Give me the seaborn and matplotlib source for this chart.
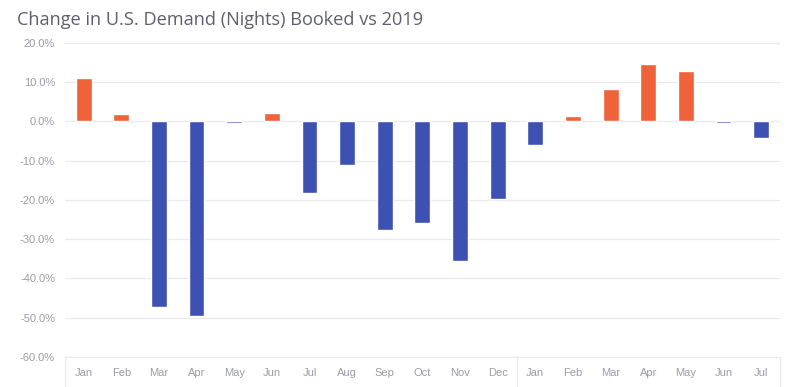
import numpy as np
import pandas as pd
import matplotlib
matplotlib.use("Agg")
import matplotlib.pyplot as plt
import seaborn as sns

# ── Data ───────────────────────────────────────────────
months = ["Jan", "Feb", "Mar", "Apr", "May", "Jun", "Jul", "Aug", "Sep", "Oct", "Nov", "Dec",
          "Jan", "Feb", "Mar", "Apr", "May", "Jun", "Jul"]
years = ["2020"] * 12 + ["2021"] * 7
change = [11.0, 2.0, -47.2, -49.6, -0.3, 2.2, -18.3, -11.2, -27.6, -25.8, -35.6, -19.8,
          -5.9, 1.4, 8.3, 14.7, 12.8, -0.3, -4.2]
y_ticks = [20, 10, 0, -10, -20, -30, -40, -50, -60]

ORANGE = "#F0623A"
BLUE = "#3D51B3"
GRID = "#E9E9EF"
TXT = "#9C9CA8"

df = pd.DataFrame({"key": [f"{y}-{m}" for y, m in zip(years, months)],
                   "month": months, "year": years, "change": change})
df["sign"] = np.where(df["change"] >= 0, "up", "down")

# ── Plot ───────────────────────────────────────────────
sns.set_style("white")
plt.rcParams["font.family"] = ["Liberation Sans", "DejaVu Sans"]

fig = plt.figure(figsize=(8, 3.87), dpi=100)
ax = fig.add_axes([0.081, 0.0775, 0.894, 0.8115])

sns.barplot(data=df, x="key", y="change", hue="sign", order=list(df["key"]),
            palette={"up": ORANGE, "down": BLUE}, width=0.42, dodge=False,
            saturation=1, legend=False, ax=ax, zorder=3)

ax.set_ylim(-60, 20)
ax.set_xlim(-0.5, len(df) - 0.5)
ax.set_yticks(y_ticks)
ax.set_yticklabels([f"{v:.1f}%" for v in y_ticks], color=TXT, fontsize=8)
ax.set_xticks(range(len(df)))
ax.set_xticklabels(df["month"], color=TXT, fontsize=8)
ax.tick_params(axis="x", length=0, pad=8)
ax.tick_params(axis="y", length=0, pad=7)
ax.set_xlabel("")
ax.set_ylabel("")
ax.grid(axis="y", color=GRID, linewidth=0.9, zorder=0)
for s in ["top", "right", "left"]:
    ax.spines[s].set_visible(False)
ax.spines["bottom"].set_color(GRID)

# year group separators + labels
n20 = years.count("2020")
for xv in [-0.5, n20 - 0.5, len(df) - 0.5]:
    ax.plot([xv, xv], [-60, -75], color=GRID, linewidth=0.9, clip_on=False)
ax.text((n20 - 1) / 2, -72.3, "2020", ha="center", va="top", color=TXT, fontsize=8,
        clip_on=False)
ax.text(n20 + (len(df) - n20 - 1) / 2, -72.3, "2021", ha="center", va="top", color=TXT,
        fontsize=8, clip_on=False)

fig.text(0.021, 0.948, "Change in U.S. Demand (Nights) Booked vs 2019", fontsize=13.1,
         color="#5E5E70", ha="left", va="center", family="Open Sans")

fig.savefig("out.png", dpi=100)
